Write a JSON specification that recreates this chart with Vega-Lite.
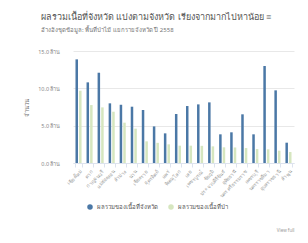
{
  "$schema": "https://vega.github.io/schema/vega-lite/v6.json",
  "width": 221,
  "height": 112,
  "autosize": {"type": "none"},
  "padding": {"left": 73, "top": 51, "right": 14, "bottom": 80},
  "background": "#ffffff",
  "title": {
    "text": "ผลรวมเนื้อที่จังหวัด แบ่งตามจังหวัด เรียงจากมากไปหาน้อย  ≡",
    "subtitle": "อ้างอิงชุดข้อมูล: พื้นที่ป่าไม้ แยกรายจังหวัด ปี 2558",
    "anchor": "start",
    "frame": "group",
    "dx": -32,
    "fontSize": 9,
    "fontWeight": "normal",
    "color": "#555555",
    "subtitleFontSize": 6,
    "subtitleColor": "#777777",
    "subtitlePadding": 5,
    "offset": 16
  },
  "config": {
    "font": "Noto Sans",
    "view": {"stroke": null}
  },
  "data": {
    "values": [
      {"p": "เชียงใหม่", "s": "ผลรวมของเนื้อที่จังหวัด", "v": 13.88},
      {"p": "เชียงใหม่", "s": "ผลรวมของเนื้อที่ป่า", "v": 9.68},
      {"p": "ตาก", "s": "ผลรวมของเนื้อที่จังหวัด", "v": 10.8},
      {"p": "ตาก", "s": "ผลรวมของเนื้อที่ป่า", "v": 7.76},
      {"p": "กาญจนบุรี", "s": "ผลรวมของเนื้อที่จังหวัด", "v": 12.09},
      {"p": "กาญจนบุรี", "s": "ผลรวมของเนื้อที่ป่า", "v": 7.45},
      {"p": "แม่ฮ่องสอน", "s": "ผลรวมของเนื้อที่จังหวัด", "v": 7.99},
      {"p": "แม่ฮ่องสอน", "s": "ผลรวมของเนื้อที่ป่า", "v": 6.87},
      {"p": "ลำปาง", "s": "ผลรวมของเนื้อที่จังหวัด", "v": 7.8},
      {"p": "ลำปาง", "s": "ผลรวมของเนื้อที่ป่า", "v": 5.4},
      {"p": "น่าน", "s": "ผลรวมของเนื้อที่จังหวัด", "v": 7.54},
      {"p": "น่าน", "s": "ผลรวมของเนื้อที่ป่า", "v": 4.6},
      {"p": "เชียงราย", "s": "ผลรวมของเนื้อที่จังหวัด", "v": 7.1},
      {"p": "เชียงราย", "s": "ผลรวมของเนื้อที่ป่า", "v": 2.9},
      {"p": "อุตรดิตถ์", "s": "ผลรวมของเนื้อที่จังหวัด", "v": 4.9},
      {"p": "อุตรดิตถ์", "s": "ผลรวมของเนื้อที่ป่า", "v": 2.7},
      {"p": "แพร่", "s": "ผลรวมของเนื้อที่จังหวัด", "v": 3.97},
      {"p": "แพร่", "s": "ผลรวมของเนื้อที่ป่า", "v": 2.5},
      {"p": "พิษณุโลก", "s": "ผลรวมของเนื้อที่จังหวัด", "v": 6.56},
      {"p": "พิษณุโลก", "s": "ผลรวมของเนื้อที่ป่า", "v": 2.32},
      {"p": "เลย", "s": "ผลรวมของเนื้อที่จังหวัด", "v": 7.63},
      {"p": "เลย", "s": "ผลรวมของเนื้อที่ป่า", "v": 2.32},
      {"p": "เพชรบูรณ์", "s": "ผลรวมของเนื้อที่จังหวัด", "v": 7.85},
      {"p": "เพชรบูรณ์", "s": "ผลรวมของเนื้อที่ป่า", "v": 2.3},
      {"p": "ชัยภูมิ", "s": "ผลรวมของเนื้อที่จังหวัด", "v": 8.12},
      {"p": "ชัยภูมิ", "s": "ผลรวมของเนื้อที่ป่า", "v": 2.23},
      {"p": "ประจวบคีรีขันธ์", "s": "ผลรวมของเนื้อที่จังหวัด", "v": 3.84},
      {"p": "ประจวบคีรีขันธ์", "s": "ผลรวมของเนื้อที่ป่า", "v": 2.1},
      {"p": "อุทัยธานี", "s": "ผลรวมของเนื้อที่จังหวัด", "v": 4.11},
      {"p": "อุทัยธานี", "s": "ผลรวมของเนื้อที่ป่า", "v": 2.08},
      {"p": "นครศรีธรรมราช", "s": "ผลรวมของเนื้อที่จังหวัด", "v": 6.52},
      {"p": "นครศรีธรรมราช", "s": "ผลรวมของเนื้อที่ป่า", "v": 2.0},
      {"p": "เพชรบุรี", "s": "ผลรวมของเนื้อที่จังหวัด", "v": 3.84},
      {"p": "เพชรบุรี", "s": "ผลรวมของเนื้อที่ป่า", "v": 1.87},
      {"p": "นครราชสีมา", "s": "ผลรวมของเนื้อที่จังหวัด", "v": 12.99},
      {"p": "นครราชสีมา", "s": "ผลรวมของเนื้อที่ป่า", "v": 1.83},
      {"p": "อุบลราชธานี", "s": "ผลรวมของเนื้อที่จังหวัด", "v": 9.73},
      {"p": "อุบลราชธานี", "s": "ผลรวมของเนื้อที่ป่า", "v": 1.65},
      {"p": "ลำพูน", "s": "ผลรวมของเนื้อที่จังหวัด", "v": 2.72},
      {"p": "ลำพูน", "s": "ผลรวมของเนื้อที่ป่า", "v": 1.47}
    ]
  },
  "mark": {"type": "bar"},
  "encoding": {
    "x": {
      "field": "p",
      "type": "nominal",
      "sort": null,
      "scale": {"paddingInner": 0.45, "paddingOuter": 0.225},
      "axis": {
        "title": "View full",
        "titleAnchor": "end",
        "titleY": 64,
        "titleFontSize": 4.5,
        "titleFontWeight": "normal",
        "titleColor": "#999999",
        "labelAngle": -45,
        "labelFontSize": 5,
        "labelColor": "#999999",
        "labelPadding": 2,
        "tickBand": "extent",
        "tickSize": 4,
        "tickColor": "#dde3ee",
        "domainColor": "#dde3ee"
      }
    },
    "xOffset": {"field": "s", "type": "nominal", "scale": {"paddingInner": 0.3}},
    "y": {
      "field": "v",
      "type": "quantitative",
      "scale": {"domain": [0, 15]},
      "axis": {
        "title": "จำนวน",
        "titleFontSize": 6,
        "titleFontWeight": "normal",
        "titleColor": "#777777",
        "titlePadding": 8,
        "values": [0, 5, 10, 15],
        "labelExpr": "format(datum.value, '.1f') + ' ล้าน'",
        "labelFontSize": 5.5,
        "labelColor": "#888888",
        "labelPadding": 13,
        "ticks": false,
        "domain": false,
        "gridColor": "#e8e8e8"
      }
    },
    "color": {
      "field": "s",
      "type": "nominal",
      "scale": {"range": ["#4b78a6", "#d6e6bf"]},
      "legend": {
        "orient": "none",
        "legendX": 14,
        "legendY": 153,
        "direction": "horizontal",
        "title": null,
        "symbolType": "circle",
        "symbolSize": 30,
        "symbolStrokeWidth": 0,
        "labelFontSize": 6,
        "labelColor": "#555555",
        "labelOffset": 4,
        "columnPadding": 10
      }
    }
  }
}
